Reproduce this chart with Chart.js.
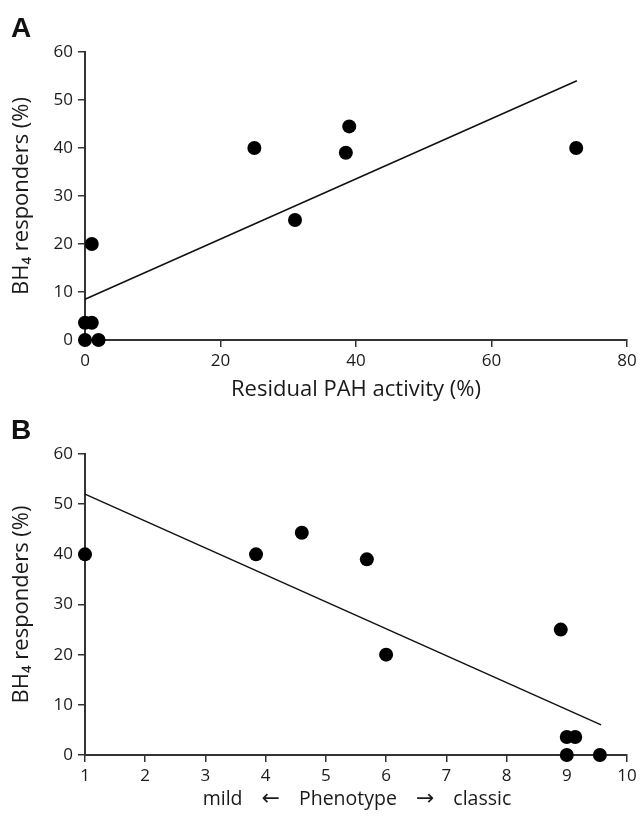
<!DOCTYPE html>
<html>
<head>
<meta charset="utf-8">
<script src="https://cdn.jsdelivr.net/npm/chart.js@4/dist/chart.umd.min.js"></script>
<style>
body { margin: 0; background: #fff; width: 641px; height: 817px; position: relative; overflow: hidden; }
canvas { position: absolute; left: 0; }
.panel { position: absolute; left: 11px; font: bold 28px "Liberation Sans", Arial, sans-serif; line-height: 28px; color: #111; }
.xlab { position: absolute; left: 157px; width: 400px; top: 788px; display: flex; justify-content: center; align-items: baseline;
        font: 19.5px "Open Sans", sans-serif; line-height: 19.5px; color: #1a1a1a; white-space: nowrap; }
.xlab .arr { font-family: "DejaVu Sans", sans-serif; font-size: 22px; margin: 0 19px; }
</style>
</head>
<body>
<canvas id="chartA" width="641" height="410" style="top:0"></canvas>
<canvas id="chartB" width="641" height="417" style="top:400px"></canvas>
<div class="panel" style="top:14px">A</div>
<div class="panel" style="top:416px">B</div>
<div class="xlab"><span>mild</span><span class="arr">&larr;</span><span>Phenotype</span><span class="arr">&rarr;</span><span>classic</span></div>
<script>
// panel A: residual PAH activity vs BH4 responders
const activityX = [0, 2, 0, 1, 1, 25, 31, 38.5, 39, 72.5];
const activityY = [0, 0, 3.6, 3.6, 20, 40, 25, 39, 44.5, 40];
const fitAX = [0, 72.6];
const fitAY = [8.5, 54];
const ticksAX = [0, 20, 40, 60, 80];

// panel B: phenotype score vs BH4 responders
const phenoX = [1, 3.84, 4.6, 5.68, 6, 8.9, 9, 9.14, 9, 9.55];
const phenoY = [40, 40, 44.3, 39, 20, 25, 3.6, 3.6, 0, 0];
const fitBX = [1, 9.57];
const fitBY = [52, 6];
const ticksBX = [1, 2, 3, 4, 5, 6, 7, 8, 9, 10];

const ticksY = [0, 10, 20, 30, 40, 50, 60];
const yTitle = 'BH\u2084 responders (%)';

Chart.defaults.font.family = '"Open Sans", sans-serif';
Chart.defaults.color = '#1a1a1a';

const axisColor = '#333';

function pts(xs, ys) {
  return xs.map((x, i) => ({x: x, y: ys[i]}));
}

// xTitle null -> label drawn as html below the canvas (B has mixed-font arrows)
function drawPanel(id, xs, ys, fx, fy, xTicks, xTitle, xHeight, padTop) {
  return new Chart(document.getElementById(id), {
    type: 'scatter',
    data: {
      datasets: [{
        data: pts(xs, ys),
        pointRadius: 7,
        pointHoverRadius: 7,
        backgroundColor: '#000',
        borderWidth: 0,
        clip: false
      }, {
        type: 'line',
        data: pts(fx, fy),
        borderColor: '#111',
        borderWidth: 1.5,
        pointRadius: 0,
        fill: false,
        clip: false
      }]
    },
    options: {
      responsive: false,
      animation: false,
      layout: { padding: { left: 0, top: padTop, right: 14, bottom: 0 } },
      plugins: { legend: { display: false }, tooltip: { enabled: false } },
      scales: {
        x: {
          type: 'linear',
          min: xTicks[0],
          max: xTicks[xTicks.length - 1],
          afterBuildTicks: s => { s.ticks = xTicks.map(v => ({value: v})); },
          afterFit: s => { s.height = xHeight; },
          grid: { drawOnChartArea: false, drawTicks: true, tickLength: 7, color: axisColor, lineWidth: 1.5 },
          border: { display: true, color: axisColor, width: 2 },
          ticks: { padding: 4, font: { size: 17 }, color: '#1a1a1a' },
          title: { display: !!xTitle, text: xTitle || '', font: { size: 22 }, color: '#1a1a1a', padding: { top: 0, bottom: 7 } }
        },
        y: {
          min: 0,
          max: 60,
          afterBuildTicks: s => { s.ticks = ticksY.map(v => ({value: v})); },
          afterFit: s => { s.width = 85; },
          grid: { drawOnChartArea: false, drawTicks: true, tickLength: 7, color: axisColor, lineWidth: 1.5 },
          border: { display: true, color: axisColor, width: 2 },
          ticks: { padding: 5, font: { size: 17 }, color: '#1a1a1a' },
          title: { display: true, text: yTitle, font: { size: 22 }, color: '#1a1a1a', padding: { top: 9, bottom: 0 } }
        }
      }
    }
  });
}

drawPanel('chartA', activityX, activityY, fitAX, fitAY, ticksAX, 'Residual PAH activity (%)', 70, 52);
drawPanel('chartB', phenoX, phenoY, fitBX, fitBY, ticksBX, null, 62, 54);
</script>
</body>
</html>
